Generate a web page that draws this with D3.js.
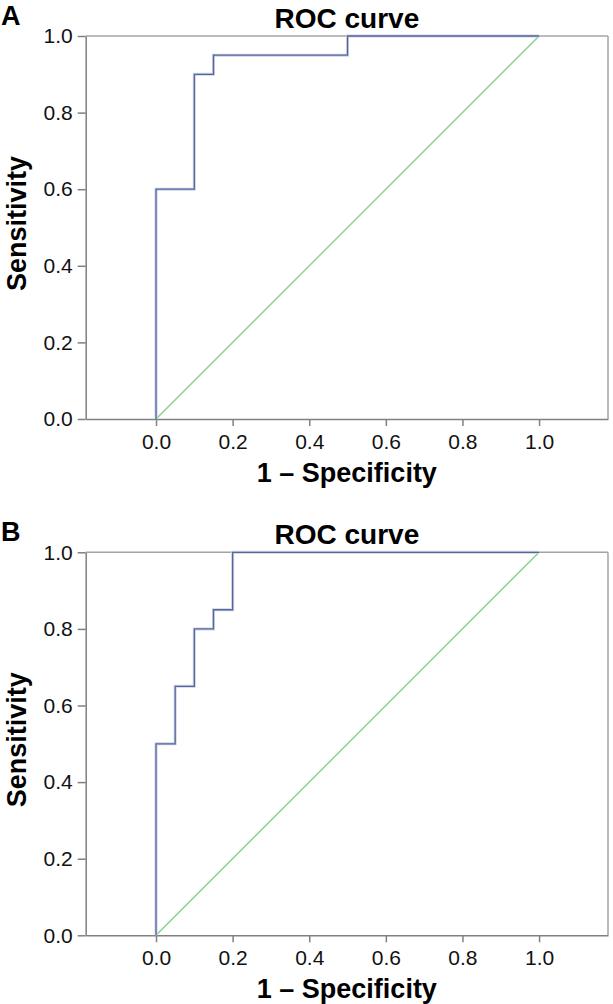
<!DOCTYPE html>
<html>
<head>
<meta charset="utf-8">
<script src="https://cdn.jsdelivr.net/npm/d3@7"></script>
<style>
  body { margin: 0; background: #fff; }
  text { font-family: "Liberation Sans", Arial, sans-serif; }
</style>
</head>
<body>
<div id="chart"></div>
<script>
// ROC points, panel A and B (1 - specificity, sensitivity)
const fprA = [0, 0, 0.1, 0.1, 0.15, 0.15, 0.5, 0.5, 1.0];
const tprA = [0, 0.6, 0.6, 0.9, 0.9, 0.95, 0.95, 1.0, 1.0];
const fprB = [0, 0, 0.05, 0.05, 0.1, 0.1, 0.15, 0.15, 0.2, 0.2, 1.0];
const tprB = [0, 0.5, 0.5, 0.65, 0.65, 0.8, 0.8, 0.85, 0.85, 1.0, 1.0];
const refLine = [0, 1];
const tickValues = [0, 0.2, 0.4, 0.6, 0.8, 1.0];
const panelLabels = ["A", "B"];

const W = 613, H = 1004;
const svg = d3.select("#chart").append("svg")
    .attr("width", W)
    .attr("height", H);

const x = d3.scaleLinear().domain([-0.1836, 1.18]).range([85.7, 608]);
const y = d3.scaleLinear().domain([0, 1]).range([419, 36]);

function drawPanel(offset, label, fpr, tpr) {
    const g = svg.append("g").attr("transform", `translate(0,${offset})`);

    // frame (top / right lighter)
    g.append("line")
        .attr("x1", x.range()[0]).attr("x2", x.range()[1])
        .attr("y1", y(1)).attr("y2", y(1))
        .attr("stroke", "#a4a4a4").attr("stroke-width", 1.5);
    g.append("line")
        .attr("x1", x.range()[1]).attr("x2", x.range()[1])
        .attr("y1", y(1)).attr("y2", y(0))
        .attr("stroke", "#a4a4a4").attr("stroke-width", 1.5);

    // axes
    const yAxis = g.append("g")
        .attr("transform", `translate(${x.range()[0]},0)`)
        .call(d3.axisLeft(y).tickValues(tickValues).tickFormat(d3.format(".1f"))
            .tickSize(8).tickPadding(5).tickSizeOuter(0));
    const xAxis = g.append("g")
        .attr("transform", `translate(0,${y(0)})`)
        .call(d3.axisBottom(x).tickValues(tickValues).tickFormat(d3.format(".1f"))
            .tickSize(7).tickPadding(8).tickSizeOuter(0));
    [yAxis, xAxis].forEach(a => {
        a.select(".domain").attr("stroke", "#808080").attr("stroke-width", 1.5);
        a.selectAll(".tick line").attr("stroke", "#808080").attr("stroke-width", 1.5);
        a.selectAll(".tick text")
            .style("font-size", "21px")
            .attr("fill", "#111");
    });

    // diagonal reference line
    g.append("line")
        .attr("x1", x(refLine[0])).attr("y1", y(refLine[0]))
        .attr("x2", x(refLine[1])).attr("y2", y(refLine[1]))
        .attr("stroke", "#86cf8e").attr("stroke-width", 1.4);

    // ROC curve
    const pts = fpr.map((f, i) => [f, tpr[i]]);
    const line = d3.line().x(d => x(d[0])).y(d => y(d[1]));
    g.append("path")
        .datum(pts)
        .attr("d", line)
        .attr("fill", "none")
        .attr("stroke", "#cdd3e8")
        .attr("stroke-width", 3);
    g.append("path")
        .datum(pts)
        .attr("d", line)
        .attr("fill", "none")
        .attr("stroke", "#56659c")
        .attr("stroke-width", 1.3);

    // title
    g.append("text")
        .attr("x", (x.range()[0] + x.range()[1]) / 2)
        .attr("y", 28)
        .attr("text-anchor", "middle")
        .style("font-size", "28px")
        .style("font-weight", "bold")
        .text("ROC curve");

    // x label
    g.append("text")
        .attr("x", (x.range()[0] + x.range()[1]) / 2)
        .attr("y", 482)
        .attr("text-anchor", "middle")
        .style("font-size", "27px")
        .style("font-weight", "bold")
        .text("1 \u2013 Specificity");

    // y label
    g.append("text")
        .attr("transform", `translate(26,${(y(0) + y(1)) / 2 - 4}) rotate(-90)`)
        .attr("text-anchor", "middle")
        .style("font-size", "27px")
        .style("font-weight", "bold")
        .text("Sensitivity");

    // panel letter
    g.append("text")
        .attr("x", 1)
        .attr("y", 25)
        .style("font-size", "27px")
        .style("font-weight", "bold")
        .text(label);
}

drawPanel(0, panelLabels[0], fprA, tprA);
drawPanel(516.3, panelLabels[1], fprB, tprB);
</script>
</body>
</html>
